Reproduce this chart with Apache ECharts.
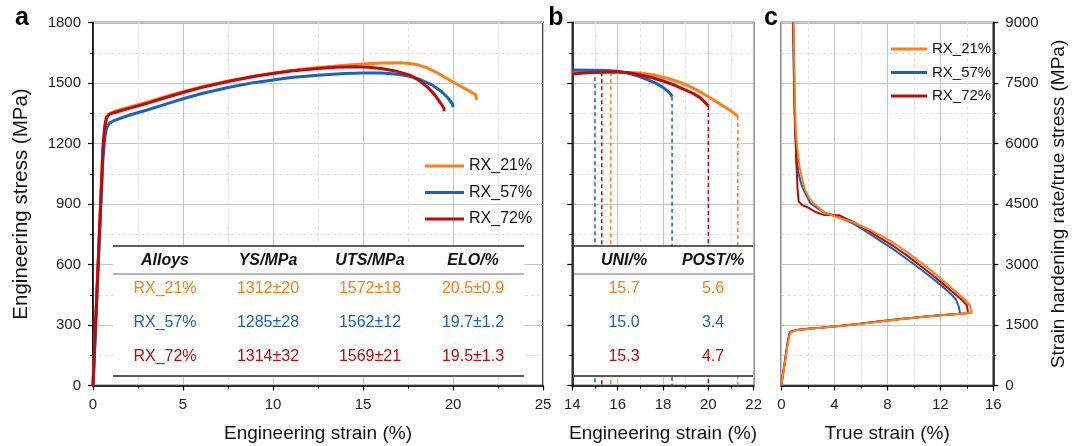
<!DOCTYPE html>
<html>
<head>
<meta charset="utf-8">
<script src="https://cdn.jsdelivr.net/npm/echarts@6/dist/echarts.min.js"></script>
<style>
  html, body { margin: 0; padding: 0; background: #fff; }
  #chart { width: 1072px; height: 446px; }
</style>
</head>
<body>
<div id="chart"></div>
<script>
// ---- series identity ----
const alloyNames = ['RX_21%', 'RX_57%', 'RX_72%'];
const alloyColors = ['#FF7F15', '#1A63B8', '#C00A0A'];

// ---- (a) engineering stress-strain, [strain %, stress MPa] ----
const engRX21 = [[0,0],[0.2,420],[0.4,840],[0.55,1160],[0.65,1275],[0.75,1325],[0.9,1347],[1.2,1360],[2,1380],[3,1405],[4,1432],[5,1457],[6,1480],[7.5,1510],[9,1535],[10,1549],[11,1562],[12.5,1577],[14,1588],[15,1594],[16,1599],[17,1600],[17.6,1597],[18.1,1589],[18.6,1574],[19.2,1547],[19.8,1515],[20.3,1490],[20.8,1466],[21.27,1442],[21.3,1416]];
const engRX57 = [[0,0],[0.2,410],[0.4,820],[0.55,1120],[0.65,1225],[0.75,1275],[0.9,1300],[1.2,1315],[2,1340],[3,1366],[4,1394],[5,1422],[6,1447],[7.5,1478],[9,1503],[10,1515],[11,1527],[12.5,1539],[14,1547],[15,1550],[16,1549],[16.8,1545],[17.6,1533],[18.2,1516],[18.8,1492],[19.3,1462],[19.7,1428],[19.98,1395],[20.0,1380]];
const engRX72 = [[0,0],[0.2,430],[0.4,860],[0.55,1180],[0.65,1285],[0.75,1330],[0.9,1344],[1.2,1354],[2,1374],[3,1399],[4,1427],[5,1453],[6,1477],[7.5,1507],[9,1533],[10,1547],[11,1559],[12.5,1572],[13.5,1578],[14.5,1580],[15.3,1578],[16,1572],[16.8,1560],[17.6,1539],[18.1,1514],[18.6,1478],[19.0,1440],[19.3,1402],[19.5,1375],[19.5,1360]];

// ---- (b) necking region, [strain %, stress MPa] ----
const neckRX21 = [[14,1551],[15,1553],[16,1553],[17,1550],[17.6,1540],[18.2,1523],[18.7,1505],[19.2,1482],[19.7,1452],[20.2,1418],[20.6,1390],[21.0,1362],[21.3,1336]];
const neckRX57 = [[14,1564],[15,1563],[15.5,1562],[16,1558],[16.5,1548],[17,1531],[17.4,1513],[17.7,1498],[18,1478],[18.2,1460],[18.35,1443],[18.4,1432]];
const neckRX72 = [[14,1545],[14.5,1549],[15,1552],[15.5,1555],[16,1556],[16.5,1551],[17,1540],[17.5,1527],[18,1510],[18.5,1490],[19,1465],[19.35,1447],[19.6,1430],[19.8,1410],[19.95,1392],[20.0,1386]];

// ---- (c) true stress and strain hardening rate, [true strain %, MPa] ----
const trueRX21 = [[0,0],[0.25,520],[0.45,960],[0.6,1230],[0.72,1320],[0.85,1352],[1.2,1375],[2,1402],[3,1430],[4,1460],[5,1492],[6,1530],[7,1570],[8,1608],[9,1643],[10,1678],[11,1710],[12,1740],[13,1766],[14,1792],[14.4,1805]];
const trueRX57 = [[0,0],[0.25,560],[0.45,1010],[0.58,1260],[0.68,1335],[0.8,1362],[1.2,1382],[2,1408],[3,1436],[4,1466],[5,1498],[6,1536],[7,1576],[8,1613],[9,1648],[10,1682],[11,1714],[12,1744],[13,1768],[13.5,1778]];
const trueRX72 = [[0,0],[0.25,545],[0.45,990],[0.59,1250],[0.7,1330],[0.82,1358],[1.2,1379],[2,1405],[3,1433],[4,1463],[5,1495],[6,1533],[7,1573],[8,1611],[9,1646],[10,1680],[11,1712],[12,1742],[13,1767],[14,1790],[14.1,1793]];
const hardRX21 = [[0.93,9000],[0.98,8000],[1.03,7000],[1.1,6300],[1.16,6050],[1.22,5850],[1.28,5660],[1.38,5420],[1.49,5250],[1.65,5020],[1.8,4850],[2.1,4650],[2.44,4520],[2.9,4390],[3.3,4280],[3.9,4210],[4.5,4140],[5.4,4050],[6.0,3960],[6.7,3860],[7.5,3720],[8.45,3540],[9.5,3310],[10.5,3060],[11.4,2830],[12.2,2600],[13.0,2380],[13.7,2170],[14.2,2010],[14.4,1805]];
const hardRX57 = [[0.88,9000],[0.93,8000],[0.98,7000],[1.04,6300],[1.1,6050],[1.13,5850],[1.16,5660],[1.25,5420],[1.31,5250],[1.5,5000],[1.75,4800],[2.19,4520],[2.7,4400],[3.2,4290],[3.9,4230],[4.5,4150],[5.4,4020],[6.0,3900],[6.7,3750],[7.5,3580],[8.45,3380],[9.5,3130],[10.5,2890],[11.4,2660],[12.2,2440],[12.8,2270],[13.2,2120],[13.4,1950],[13.5,1778]];
const hardRX72 = [[0.9,9000],[0.95,8000],[1.0,7000],[1.05,6300],[1.08,6050],[1.1,5850],[1.11,5660],[1.15,5420],[1.18,5250],[1.22,4900],[1.31,4560],[1.6,4470],[2.1,4400],[2.6,4300],[3.2,4230],[4.4,4220],[5.0,4120],[5.4,4060],[6.0,3950],[6.7,3810],[7.5,3650],[8.45,3460],[9.5,3220],[10.5,2970],[11.4,2740],[12.2,2520],[13.0,2300],[13.7,2100],[14.0,1990],[14.1,1793]];

// ---- tables ----
const tableHeadA = ['Alloys', 'YS/MPa', 'UTS/MPa', 'ELO/%'];
const ysText = ['1312±20', '1285±28', '1314±32'];
const utsText = ['1572±18', '1562±12', '1569±21'];
const eloText = ['20.5±0.9', '19.7±1.2', '19.5±1.3'];
const tableHeadB = ['UNI/%', 'POST/%'];
const uniVals = [15.7, 15.0, 15.3];
const postVals = [5.6, 3.4, 4.7];

// ---- axis ticks ----
const axisA = { xMin: 0, xMax: 25, xStep: 5, yMin: 0, yMax: 1800, yStep: 300 };
const axisB = { xMin: 14, xMax: 22, xStep: 2 };
const axisC = { xMin: 0, xMax: 16, xStep: 4, yMin: 0, yMax: 9000, yStep: 1500 };

const engCurves = [engRX21, engRX57, engRX72];
const neckCurves = [neckRX21, neckRX57, neckRX72];
const trueCurves = [trueRX21, trueRX57, trueRX72];
const hardCurves = [hardRX21, hardRX57, hardRX72];

// stress on a curve at a given strain (linear between recorded points)
function valueAt(curve, x) {
  for (let i = 1; i < curve.length; i++) {
    const [x0, y0] = curve[i - 1], [x1, y1] = curve[i];
    if (x >= x0 && x <= x1) return x1 === x0 ? y0 : y0 + (y1 - y0) * (x - x0) / (x1 - x0);
  }
  return curve[curve.length - 1][1];
}

const font = 'Liberation Sans';

function valueAxis(extra) {
  return Object.assign({
    type: 'value',
    axisLine: { show: true, onZero: false, lineStyle: { color: '#000', width: 1.5 } },
    axisTick: { show: true, inside: false, length: 5, lineStyle: { color: '#000', width: 1.2 } },
    minorTick: { show: true, splitNumber: 2, length: 3, lineStyle: { color: '#000', width: 1 } },
    splitLine: { show: true, lineStyle: { color: '#c6c6c6', width: 1 } },
    minorSplitLine: { show: true, lineStyle: { color: '#dedede', width: 1, type: [3, 3] } },
    axisLabel: { color: '#222', fontSize: 15, fontFamily: font, margin: 12, formatter: v => String(v) },
    nameLocation: 'middle',
    nameTextStyle: { color: '#111', fontSize: 19, fontFamily: font }
  }, extra);
}

const xAxes = [
  valueAxis({ gridIndex: 0, min: axisA.xMin, max: axisA.xMax, interval: axisA.xStep, name: 'Engineering strain (%)', nameGap: 39 }),
  valueAxis({ gridIndex: 1, min: axisB.xMin, max: axisB.xMax, interval: axisB.xStep, name: 'Engineering strain (%)', nameGap: 39 }),
  valueAxis({ gridIndex: 2, min: axisC.xMin, max: axisC.xMax, interval: axisC.xStep, name: 'True strain (%)', nameGap: 39 })
];
const yAxes = [
  valueAxis({ gridIndex: 0, min: axisA.yMin, max: axisA.yMax, interval: axisA.yStep, name: 'Engineering stress (MPa)', nameGap: 61,
    nameTextStyle: { color: '#111', fontSize: 20.5, fontFamily: font } }),
  valueAxis({ gridIndex: 1, min: axisA.yMin, max: axisA.yMax, interval: axisA.yStep, axisLabel: { show: false } }),
  valueAxis({ gridIndex: 2, position: 'right', min: axisC.yMin, max: axisC.yMax, interval: axisC.yStep, name: 'Strain hardening rate/true stress (MPa)', nameGap: 56 })
];

const series = [];
function addLine(name, data, color, xi, width, extra) {
  series.push(Object.assign({
    name, type: 'line', data, xAxisIndex: xi, yAxisIndex: xi,
    symbol: 'none', showSymbol: false, smooth: false, animation: false,
    lineStyle: { color, width }, itemStyle: { color }, emphasis: { disabled: true }
  }, extra || {}));
}

// (a) stress-strain curves
alloyNames.forEach((n, i) => addLine(n, engCurves[i], alloyColors[i], 0, 3));
// (b) uniform and fracture strain markers, then curves
alloyNames.forEach((n, i) => {
  const neck = neckCurves[i];
  const uni = uniVals[i];
  const frac = uni + postVals[i];
  const dashed = { color: alloyColors[i], width: 1.5, type: [4, 3] };
  addLine(n + ' uni', [[uni, valueAt(neck, uni)], [uni, 0]], alloyColors[i], 1, 1.5, { lineStyle: dashed });
  addLine(n + ' fracture', [[frac, neck[neck.length - 1][1]], [frac, 0]], alloyColors[i], 1, 1.5, { lineStyle: dashed });
});
alloyNames.forEach((n, i) => addLine(n, neckCurves[i], alloyColors[i], 1, 3));
// (c) strain hardening rate and true stress
[1, 2, 0].forEach(i => addLine(alloyNames[i], hardCurves[i], alloyColors[i], 2, 2));
[1, 2, 0].forEach(i => addLine(alloyNames[i], trueCurves[i], alloyColors[i], 2, 2));

// tables drawn over the plots
const Z = 100;
function hLine(x1, x2, y, color, w) {
  return { type: 'line', z: Z + 1, shape: { x1, y1: y, x2, y2: y }, style: { stroke: color, lineWidth: w } };
}
function cellText(text, x, y, color, f) {
  return { type: 'text', z: Z + 2, style: { text, x, y, fill: color, font: f, align: 'center', verticalAlign: 'middle', textAlign: 'center', textVerticalAlign: 'middle' } };
}
const headFont = 'italic bold 16px "' + font + '"';
const cellFont = '16px "' + font + '"';
const rowY = [289, 323, 357];
const graphics = [];
// table inside (a)
graphics.push({ type: 'rect', z: Z, shape: { x: 113, y: 246, width: 411, height: 130 }, style: { fill: '#fff' } });
graphics.push(hLine(113, 524, 246, '#2a2a2a', 1.5), hLine(113, 524, 274, '#6a6a6a', 1.2), hLine(113, 524, 376, '#5a5a5a', 2));
const colA = [165, 268, 370, 473];
tableHeadA.forEach((h, j) => graphics.push(cellText(h, colA[j], 261, '#111', headFont)));
alloyNames.forEach((n, i) => {
  [n, ysText[i], utsText[i], eloText[i]].forEach((t, j) => graphics.push(cellText(t, colA[j], rowY[i], alloyColors[i], cellFont)));
});
// table inside (b)
graphics.push({ type: 'rect', z: Z, shape: { x: 574, y: 246, width: 179, height: 130 }, style: { fill: '#fff' } });
graphics.push(hLine(574, 753, 246, '#2a2a2a', 1.5), hLine(574, 753, 274, '#6a6a6a', 1.2), hLine(574, 753, 376, '#5a5a5a', 2));
const colB = [624, 713];
tableHeadB.forEach((h, j) => graphics.push(cellText(h, colB[j], 261, '#111', headFont)));
alloyNames.forEach((n, i) => {
  [uniVals[i].toFixed(1), postVals[i].toFixed(1)].forEach((t, j) => graphics.push(cellText(t, colB[j], rowY[i], alloyColors[i], cellFont)));
});
// panel letters
const letterFont = 'bold 25px "' + font + '"';
[['a', 22, 18], ['b', 556, 18], ['c', 771, 18]].forEach(([t, x, y]) => graphics.push(cellText(t, x, y, '#000', letterFont)));

const gridBase = { show: true, borderColor: '#000', borderWidth: 1.5, backgroundColor: 'transparent', containLabel: false, outerBoundsMode: 'none' };
const option = {
  animation: false,
  backgroundColor: '#fff',
  grid: [
    Object.assign({ left: 93, top: 22.5, width: 450, height: 363 }, gridBase),
    Object.assign({ left: 572.3, top: 22.5, width: 181.4, height: 363 }, gridBase),
    Object.assign({ left: 781.3, top: 22.5, width: 212, height: 363 }, gridBase)
  ],
  xAxis: xAxes,
  yAxis: yAxes,
  legend: [
    { data: alloyNames, orient: 'vertical', left: 425, top: 158, icon: 'path://M0 0H39V3H0Z', itemWidth: 39, itemHeight: 3,
      itemGap: 10.5, selectedMode: false, padding: 0,
      textStyle: { fontSize: 16, fontFamily: font, color: '#111' } },
    { data: alloyNames, orient: 'vertical', left: 891, top: 41.5, icon: 'path://M0 0H36V3H0Z', itemWidth: 36, itemHeight: 3,
      itemGap: 8.5, selectedMode: false, padding: 0,
      textStyle: { fontSize: 15, fontFamily: font, color: '#111' } }
  ],
  series,
  graphic: { elements: graphics }
};

const chart = echarts.init(document.getElementById('chart'), null, { renderer: 'canvas' });
chart.setOption(option);
</script>
</body>
</html>
